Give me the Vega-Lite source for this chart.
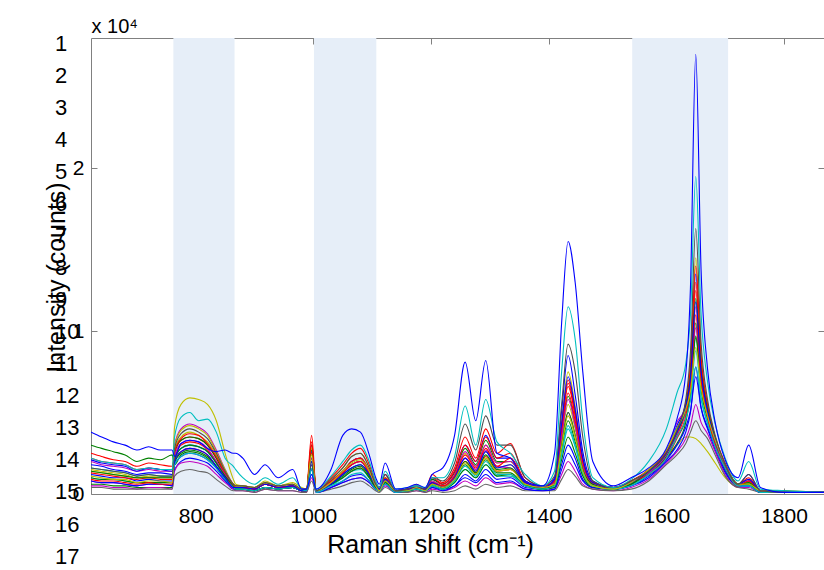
{
"$schema": "https://vega.github.io/schema/vega-lite/v6.json",
"width": 733,
"height": 456,
"autosize": {"type": "none"},
"padding": {"left": 91, "top": 38, "right": 0, "bottom": 76},
"background": "white",
"config": {
  "view": {"stroke": null},
  "font": "Liberation Sans",
  "axis": {"grid": false, "domainColor": "#808080", "tickColor": "#808080", "domainWidth": 1, "tickWidth": 1, "labelColor": "black", "titleColor": "black", "labelFont": "Liberation Sans", "titleFont": "Liberation Sans", "labelFontSize": 21, "titleFontSize": 25, "titleFontWeight": "normal", "zindex": 1}
},
"resolve": {"scale": {"x": "independent", "y": "independent"}},
"layer": [
{
  "data": {"values": [{"start": 762, "end": 866}, {"start": 1001, "end": 1107}, {"start": 1542, "end": 1705}]},
  "mark": {"type": "rect", "color": "#e6eef8"},
  "encoding": {
    "x": {"field": "start", "type": "quantitative", "scale": {"domain": [622, 1868], "nice": false, "zero": false}, "axis": {"orient": "top", "values": [800, 1000, 1200, 1400, 1600, 1800], "labels": false, "title": "x 10⁴", "titleX": 0, "titleY": -6, "titleAlign": "left", "titleBaseline": "alphabetic", "titleAngle": 0, "titleFontSize": 20, "tickSize": -6}},
    "x2": {"field": "end"},
    "y": {"datum": 0, "type": "quantitative", "scale": {"domain": [0, 2.8], "nice": false, "zero": false}, "axis": {"orient": "right", "values": [0, 1, 2], "labels": false, "title": null, "tickSize": -6, "domain": false}},
    "y2": {"datum": 2.8}
  }
},
{
  "data": {"values": [
{"x":622,"a":0.38,"b":0.22,"c":0.16,"d":0.14,"e":0.12,"f":0.22,"g":0.30,"h":0.08,"i":0.13,"j":0.18,"k":0.06,"l":0.10,"m":0.05,"n":0.15,"o":0.04,"p":0.25,"q":0.10,"r":0.08,"s":0.20,"t":0.14,"u":0.09,"v":0.16,"w":0.21,"z":0.11},
{"x":640,"a":0.35,"b":0.20,"c":0.15,"d":0.13,"e":0.11,"f":0.20,"g":0.28,"h":0.07,"i":0.12,"j":0.17,"k":0.06,"l":0.09,"m":0.05,"n":0.14,"o":0.04,"p":0.23,"q":0.09,"r":0.07,"s":0.18,"t":0.13,"u":0.08,"v":0.15,"w":0.19,"z":0.10},
{"x":660,"a":0.32,"b":0.19,"c":0.14,"d":0.12,"e":0.10,"f":0.19,"g":0.26,"h":0.07,"i":0.11,"j":0.15,"k":0.05,"l":0.09,"m":0.04,"n":0.13,"o":0.03,"p":0.21,"q":0.09,"r":0.07,"s":0.17,"t":0.12,"u":0.08,"v":0.14,"w":0.18,"z":0.09},
{"x":680,"a":0.30,"b":0.18,"c":0.13,"d":0.11,"e":0.10,"f":0.18,"g":0.24,"h":0.06,"i":0.10,"j":0.14,"k":0.05,"l":0.08,"m":0.04,"n":0.12,"o":0.03,"p":0.20,"q":0.08,"r":0.06,"s":0.16,"t":0.11,"u":0.07,"v":0.13,"w":0.17,"z":0.09},
{"x":700,"a":0.27,"b":0.15,"c":0.11,"d":0.10,"e":0.08,"f":0.15,"g":0.20,"h":0.05,"i":0.09,"j":0.12,"k":0.04,"l":0.07,"m":0.03,"n":0.10,"o":0.03,"p":0.17,"q":0.07,"r":0.05,"s":0.14,"t":0.10,"u":0.06,"v":0.11,"w":0.14,"z":0.07},
{"x":720,"a":0.29,"b":0.16,"c":0.12,"d":0.10,"e":0.09,"f":0.16,"g":0.22,"h":0.06,"i":0.10,"j":0.13,"k":0.04,"l":0.07,"m":0.04,"n":0.11,"o":0.03,"p":0.19,"q":0.07,"r":0.06,"s":0.15,"t":0.10,"u":0.07,"v":0.12,"w":0.16,"z":0.08},
{"x":740,"a":0.27,"b":0.15,"c":0.11,"d":0.10,"e":0.08,"f":0.15,"g":0.21,"h":0.06,"i":0.09,"j":0.13,"k":0.04,"l":0.07,"m":0.04,"n":0.11,"o":0.03,"p":0.18,"q":0.07,"r":0.06,"s":0.14,"t":0.10,"u":0.06,"v":0.11,"w":0.15,"z":0.08},
{"x":760,"a":0.27,"b":0.15,"c":0.11,"d":0.10,"e":0.08,"f":0.15,"g":0.24,"h":0.05,"i":0.09,"j":0.12,"k":0.04,"l":0.07,"m":0.03,"n":0.10,"o":0.03,"p":0.17,"q":0.07,"r":0.05,"s":0.14,"t":0.10,"u":0.06,"v":0.11,"w":0.14,"z":0.07},
{"x":764,"a":0.23,"b":0.35,"c":0.28,"d":0.41,"e":0.21,"f":0.25,"g":0.18,"h":0.30,"i":0.20,"j":0.15,"k":0.25,"l":0.21,"m":0.14,"n":0.27,"o":0.11,"p":0.22,"q":0.19,"r":0.18,"s":0.23,"t":0.21,"u":0.26,"v":0.18,"w":0.20,"z":0.29},
{"x":775,"a":0.31,"b":0.47,"c":0.37,"d":0.55,"e":0.28,"f":0.33,"g":0.24,"h":0.40,"i":0.26,"j":0.20,"k":0.33,"l":0.28,"m":0.19,"n":0.35,"o":0.14,"p":0.30,"q":0.25,"r":0.23,"s":0.31,"t":0.28,"u":0.34,"v":0.23,"w":0.26,"z":0.39},
{"x":790,"a":0.33,"b":0.50,"c":0.40,"d":0.59,"e":0.30,"f":0.35,"g":0.26,"h":0.43,"i":0.28,"j":0.22,"k":0.35,"l":0.30,"m":0.20,"n":0.38,"o":0.15,"p":0.32,"q":0.27,"r":0.25,"s":0.33,"t":0.30,"u":0.37,"v":0.25,"w":0.28,"z":0.42},
{"x":805,"a":0.32,"b":0.45,"c":0.38,"d":0.58,"e":0.29,"f":0.34,"g":0.25,"h":0.41,"i":0.27,"j":0.21,"k":0.34,"l":0.29,"m":0.19,"n":0.36,"o":0.14,"p":0.31,"q":0.26,"r":0.24,"s":0.32,"t":0.29,"u":0.36,"v":0.24,"w":0.27,"z":0.40},
{"x":820,"a":0.28,"b":0.46,"c":0.34,"d":0.55,"e":0.26,"f":0.30,"g":0.22,"h":0.37,"i":0.24,"j":0.19,"k":0.30,"l":0.26,"m":0.17,"n":0.32,"o":0.13,"p":0.27,"q":0.23,"r":0.21,"s":0.28,"t":0.26,"u":0.31,"v":0.21,"w":0.24,"z":0.36},
{"x":835,"a":0.26,"b":0.38,"c":0.25,"d":0.45,"e":0.19,"f":0.22,"g":0.16,"h":0.27,"i":0.17,"j":0.14,"k":0.22,"l":0.19,"m":0.12,"n":0.24,"o":0.09,"p":0.20,"q":0.17,"r":0.16,"s":0.20,"t":0.19,"u":0.23,"v":0.16,"w":0.17,"z":0.26},
{"x":850,"a":0.27,"b":0.22,"c":0.14,"d":0.25,"e":0.11,"f":0.12,"g":0.09,"h":0.15,"i":0.10,"j":0.08,"k":0.12,"l":0.11,"m":0.07,"n":0.13,"o":0.05,"p":0.11,"q":0.09,"r":0.09,"s":0.12,"t":0.11,"u":0.13,"v":0.09,"w":0.10,"z":0.15},
{"x":864,"a":0.25,"b":0.17,"c":0.06,"d":0.09,"e":0.05,"f":0.05,"g":0.04,"h":0.06,"i":0.04,"j":0.03,"k":0.05,"l":0.05,"m":0.03,"n":0.06,"o":0.02,"p":0.05,"q":0.04,"r":0.04,"s":0.05,"t":0.05,"u":0.06,"v":0.04,"w":0.04,"z":0.06},
{"x":868,"a":0.25,"b":0.15,"c":0.05,"d":0.06,"e":0.04,"f":0.04,"g":0.04,"h":0.05,"i":0.03,"j":0.03,"k":0.04,"l":0.03,"m":0.02,"n":0.05,"o":0.02,"p":0.04,"q":0.03,"r":0.03,"s":0.04,"t":0.03,"u":0.04,"v":0.03,"w":0.04,"z":0.05},
{"x":880,"a":0.22,"b":0.10,"c":0.05,"d":0.05,"e":0.04,"f":0.04,"g":0.04,"h":0.05,"i":0.03,"j":0.03,"k":0.04,"l":0.03,"m":0.02,"n":0.05,"o":0.02,"p":0.04,"q":0.03,"r":0.03,"s":0.04,"t":0.03,"u":0.04,"v":0.03,"w":0.04,"z":0.05},
{"x":900,"a":0.12,"b":0.06,"c":0.04,"d":0.04,"e":0.03,"f":0.03,"g":0.03,"h":0.04,"i":0.02,"j":0.02,"k":0.03,"l":0.02,"m":0.01,"n":0.04,"o":0.01,"p":0.03,"q":0.02,"r":0.02,"s":0.03,"t":0.02,"u":0.03,"v":0.02,"w":0.03,"z":0.04},
{"x":918,"a":0.18,"b":0.10,"c":0.07,"d":0.08,"e":0.06,"f":0.06,"g":0.06,"h":0.07,"i":0.04,"j":0.04,"k":0.06,"l":0.04,"m":0.03,"n":0.07,"o":0.03,"p":0.06,"q":0.04,"r":0.04,"s":0.06,"t":0.04,"u":0.06,"v":0.04,"w":0.06,"z":0.07},
{"x":940,"a":0.10,"b":0.06,"c":0.05,"d":0.05,"e":0.04,"f":0.04,"g":0.04,"h":0.05,"i":0.03,"j":0.03,"k":0.04,"l":0.03,"m":0.02,"n":0.05,"o":0.02,"p":0.04,"q":0.03,"r":0.03,"s":0.04,"t":0.03,"u":0.04,"v":0.03,"w":0.04,"z":0.05},
{"x":965,"a":0.15,"b":0.10,"c":0.06,"d":0.07,"e":0.05,"f":0.05,"g":0.05,"h":0.06,"i":0.04,"j":0.04,"k":0.05,"l":0.04,"m":0.02,"n":0.06,"o":0.02,"p":0.05,"q":0.04,"r":0.04,"s":0.05,"t":0.04,"u":0.05,"v":0.04,"w":0.05,"z":0.06},
{"x":980,"a":0.03,"b":0.03,"c":0.03,"d":0.04,"e":0.02,"f":0.02,"g":0.02,"h":0.03,"i":0.02,"j":0.02,"k":0.02,"l":0.02,"m":0.01,"n":0.03,"o":0.01,"p":0.02,"q":0.02,"r":0.02,"s":0.02,"t":0.02,"u":0.02,"v":0.02,"w":0.02,"z":0.03},
{"x":988,"a":0.03,"b":0.02,"c":0.03,"d":0.03,"e":0.02,"f":0.02,"g":0.02,"h":0.03,"i":0.02,"j":0.02,"k":0.02,"l":0.02,"m":0.01,"n":0.03,"o":0.01,"p":0.02,"q":0.02,"r":0.02,"s":0.02,"t":0.02,"u":0.02,"v":0.02,"w":0.02,"z":0.03},
{"x":997,"a":0.12,"b":0.15,"c":0.18,"d":0.20,"e":0.26,"f":0.36,"g":0.30,"h":0.15,"i":0.25,"j":0.18,"k":0.22,"l":0.12,"m":0.10,"n":0.28,"o":0.08,"p":0.32,"q":0.20,"r":0.15,"s":0.22,"t":0.27,"u":0.30,"v":0.16,"w":0.20,"z":0.24},
{"x":1005,"a":0.03,"b":0.03,"c":0.02,"d":0.02,"e":0.02,"f":0.02,"g":0.02,"h":0.02,"i":0.02,"j":0.01,"k":0.02,"l":0.02,"m":0.01,"n":0.02,"o":0.01,"p":0.02,"q":0.02,"r":0.01,"s":0.02,"t":0.02,"u":0.02,"v":0.01,"w":0.02,"z":0.02},
{"x":1030,"a":0.15,"b":0.11,"c":0.09,"d":0.08,"e":0.08,"f":0.10,"g":0.07,"h":0.07,"i":0.06,"j":0.04,"k":0.06,"l":0.05,"m":0.04,"n":0.09,"o":0.03,"p":0.08,"q":0.06,"r":0.04,"s":0.07,"t":0.06,"u":0.07,"v":0.05,"w":0.06,"z":0.07},
{"x":1050,"a":0.36,"b":0.20,"c":0.16,"d":0.14,"e":0.14,"f":0.18,"g":0.13,"h":0.13,"i":0.10,"j":0.08,"k":0.12,"l":0.10,"m":0.07,"n":0.16,"o":0.05,"p":0.14,"q":0.10,"r":0.07,"s":0.13,"t":0.11,"u":0.13,"v":0.08,"w":0.12,"z":0.14},
{"x":1065,"a":0.40,"b":0.27,"c":0.23,"d":0.20,"e":0.20,"f":0.25,"g":0.18,"h":0.18,"i":0.14,"j":0.11,"k":0.16,"l":0.14,"m":0.09,"n":0.23,"o":0.07,"p":0.20,"q":0.14,"r":0.09,"s":0.18,"t":0.15,"u":0.18,"v":0.12,"w":0.16,"z":0.19},
{"x":1080,"a":0.38,"b":0.30,"c":0.25,"d":0.22,"e":0.22,"f":0.28,"g":0.20,"h":0.20,"i":0.16,"j":0.12,"k":0.18,"l":0.15,"m":0.10,"n":0.25,"o":0.08,"p":0.22,"q":0.16,"r":0.10,"s":0.20,"t":0.17,"u":0.20,"v":0.13,"w":0.18,"z":0.21},
{"x":1095,"a":0.24,"b":0.20,"c":0.16,"d":0.14,"e":0.14,"f":0.18,"g":0.13,"h":0.13,"i":0.10,"j":0.08,"k":0.12,"l":0.10,"m":0.07,"n":0.16,"o":0.05,"p":0.14,"q":0.10,"r":0.07,"s":0.13,"t":0.11,"u":0.13,"v":0.08,"w":0.12,"z":0.14},
{"x":1106,"a":0.10,"b":0.08,"c":0.06,"d":0.06,"e":0.06,"f":0.07,"g":0.05,"h":0.05,"i":0.04,"j":0.03,"k":0.05,"l":0.04,"m":0.03,"n":0.06,"o":0.02,"p":0.06,"q":0.04,"r":0.03,"s":0.05,"t":0.04,"u":0.05,"v":0.03,"w":0.05,"z":0.05},
{"x":1112,"a":0.06,"b":0.04,"c":0.04,"d":0.03,"e":0.04,"f":0.04,"g":0.03,"h":0.02,"i":0.02,"j":0.02,"k":0.03,"l":0.02,"m":0.02,"n":0.03,"o":0.01,"p":0.03,"q":0.02,"r":0.02,"s":0.03,"t":0.02,"u":0.03,"v":0.02,"w":0.03,"z":0.02},
{"x":1122,"a":0.19,"b":0.14,"c":0.12,"d":0.10,"e":0.12,"f":0.12,"g":0.10,"h":0.08,"i":0.08,"j":0.07,"k":0.09,"l":0.06,"m":0.05,"n":0.10,"o":0.04,"p":0.10,"q":0.07,"r":0.06,"s":0.09,"t":0.08,"u":0.09,"v":0.06,"w":0.09,"z":0.08},
{"x":1140,"a":0.03,"b":0.03,"c":0.02,"d":0.02,"e":0.02,"f":0.02,"g":0.02,"h":0.02,"i":0.01,"j":0.02,"k":0.02,"l":0.01,"m":0.01,"n":0.02,"o":0.01,"p":0.02,"q":0.02,"r":0.01,"s":0.02,"t":0.02,"u":0.02,"v":0.01,"w":0.02,"z":0.02},
{"x":1160,"a":0.04,"b":0.04,"c":0.03,"d":0.03,"e":0.03,"f":0.03,"g":0.03,"h":0.02,"i":0.02,"j":0.02,"k":0.03,"l":0.02,"m":0.01,"n":0.03,"o":0.01,"p":0.03,"q":0.02,"r":0.02,"s":0.03,"t":0.02,"u":0.03,"v":0.02,"w":0.03,"z":0.02},
{"x":1175,"a":0.06,"b":0.05,"c":0.05,"d":0.06,"e":0.04,"f":0.05,"g":0.04,"h":0.04,"i":0.03,"j":0.03,"k":0.04,"l":0.03,"m":0.02,"n":0.04,"o":0.02,"p":0.04,"q":0.03,"r":0.03,"s":0.04,"t":0.03,"u":0.04,"v":0.03,"w":0.04,"z":0.04},
{"x":1190,"a":0.04,"b":0.04,"c":0.03,"d":0.03,"e":0.03,"f":0.03,"g":0.03,"h":0.03,"i":0.02,"j":0.02,"k":0.03,"l":0.02,"m":0.01,"n":0.03,"o":0.01,"p":0.03,"q":0.02,"r":0.02,"s":0.03,"t":0.02,"u":0.03,"v":0.02,"w":0.03,"z":0.02},
{"x":1202,"a":0.12,"b":0.10,"c":0.10,"d":0.07,"e":0.09,"f":0.12,"g":0.09,"h":0.07,"i":0.07,"j":0.04,"k":0.06,"l":0.05,"m":0.03,"n":0.08,"o":0.02,"p":0.10,"q":0.05,"r":0.04,"s":0.08,"t":0.06,"u":0.07,"v":0.05,"w":0.07,"z":0.06},
{"x":1220,"a":0.16,"b":0.10,"c":0.08,"d":0.05,"e":0.06,"f":0.07,"g":0.06,"h":0.05,"i":0.04,"j":0.03,"k":0.04,"l":0.03,"m":0.02,"n":0.05,"o":0.01,"p":0.06,"q":0.03,"r":0.02,"s":0.05,"t":0.04,"u":0.05,"v":0.03,"w":0.04,"z":0.04},
{"x":1240,"a":0.36,"b":0.23,"c":0.19,"d":0.10,"e":0.14,"f":0.16,"g":0.13,"h":0.10,"i":0.09,"j":0.05,"k":0.08,"l":0.07,"m":0.04,"n":0.11,"o":0.02,"p":0.14,"q":0.07,"r":0.05,"s":0.12,"t":0.09,"u":0.11,"v":0.08,"w":0.10,"z":0.09},
{"x":1258,"a":0.81,"b":0.54,"c":0.43,"d":0.22,"e":0.30,"f":0.35,"g":0.28,"h":0.22,"i":0.20,"j":0.12,"k":0.18,"l":0.15,"m":0.08,"n":0.25,"o":0.05,"p":0.30,"q":0.15,"r":0.10,"s":0.26,"t":0.20,"u":0.24,"v":0.17,"w":0.22,"z":0.19},
{"x":1276,"a":0.45,"b":0.30,"c":0.27,"d":0.14,"e":0.20,"f":0.22,"g":0.18,"h":0.15,"i":0.13,"j":0.08,"k":0.12,"l":0.10,"m":0.05,"n":0.17,"o":0.03,"p":0.20,"q":0.10,"r":0.07,"s":0.17,"t":0.13,"u":0.16,"v":0.11,"w":0.14,"z":0.12},
{"x":1293,"a":0.82,"b":0.58,"c":0.48,"d":0.26,"e":0.36,"f":0.40,"g":0.33,"h":0.27,"i":0.23,"j":0.15,"k":0.21,"l":0.18,"m":0.10,"n":0.30,"o":0.06,"p":0.35,"q":0.18,"r":0.12,"s":0.30,"t":0.24,"u":0.28,"v":0.20,"w":0.26,"z":0.22},
{"x":1312,"a":0.25,"b":0.32,"c":0.30,"d":0.16,"e":0.22,"f":0.25,"g":0.20,"h":0.17,"i":0.14,"j":0.09,"k":0.13,"l":0.11,"m":0.06,"n":0.19,"o":0.04,"p":0.22,"q":0.11,"r":0.07,"s":0.19,"t":0.15,"u":0.17,"v":0.12,"w":0.16,"z":0.14},
{"x":1335,"a":0.22,"b":0.25,"c":0.30,"d":0.18,"e":0.22,"f":0.31,"g":0.20,"h":0.16,"i":0.15,"j":0.10,"k":0.13,"l":0.11,"m":0.07,"n":0.20,"o":0.05,"p":0.25,"q":0.12,"r":0.08,"s":0.20,"t":0.16,"u":0.22,"v":0.12,"w":0.18,"z":0.15},
{"x":1360,"a":0.08,"b":0.12,"c":0.10,"d":0.06,"e":0.08,"f":0.10,"g":0.08,"h":0.07,"i":0.06,"j":0.04,"k":0.05,"l":0.05,"m":0.03,"n":0.07,"o":0.02,"p":0.08,"q":0.05,"r":0.03,"s":0.08,"t":0.06,"u":0.07,"v":0.05,"w":0.07,"z":0.06},
{"x":1390,"a":0.05,"b":0.05,"c":0.05,"d":0.04,"e":0.04,"f":0.05,"g":0.04,"h":0.03,"i":0.03,"j":0.03,"k":0.03,"l":0.03,"m":0.02,"n":0.04,"o":0.02,"p":0.04,"q":0.03,"r":0.02,"s":0.04,"t":0.03,"u":0.04,"v":0.03,"w":0.04,"z":0.04},
{"x":1410,"a":0.25,"b":0.14,"c":0.11,"d":0.09,"e":0.10,"f":0.08,"g":0.07,"h":0.06,"i":0.07,"j":0.04,"k":0.05,"l":0.05,"m":0.03,"n":0.07,"o":0.02,"p":0.08,"q":0.04,"r":0.03,"s":0.07,"t":0.06,"u":0.08,"v":0.05,"w":0.09,"z":0.06},
{"x":1422,"a":1.05,"b":0.75,"c":0.55,"d":0.45,"e":0.51,"f":0.42,"g":0.36,"h":0.30,"i":0.37,"j":0.18,"k":0.27,"l":0.24,"m":0.12,"n":0.33,"o":0.09,"p":0.40,"q":0.21,"r":0.15,"s":0.35,"t":0.30,"u":0.41,"v":0.25,"w":0.43,"z":0.29},
{"x":1433,"a":1.55,"b":1.15,"c":0.92,"d":0.75,"e":0.85,"f":0.70,"g":0.60,"h":0.50,"i":0.62,"j":0.30,"k":0.45,"l":0.40,"m":0.20,"n":0.55,"o":0.15,"p":0.66,"q":0.35,"r":0.25,"s":0.58,"t":0.50,"u":0.68,"v":0.42,"w":0.72,"z":0.48},
{"x":1445,"a":1.30,"b":0.95,"c":0.75,"d":0.54,"e":0.61,"f":0.50,"g":0.43,"h":0.36,"i":0.45,"j":0.22,"k":0.32,"l":0.29,"m":0.14,"n":0.40,"o":0.11,"p":0.48,"q":0.25,"r":0.18,"s":0.42,"t":0.36,"u":0.49,"v":0.30,"w":0.52,"z":0.35},
{"x":1458,"a":0.75,"b":0.45,"c":0.35,"d":0.23,"e":0.26,"f":0.21,"g":0.18,"h":0.15,"i":0.19,"j":0.09,"k":0.14,"l":0.12,"m":0.06,"n":0.17,"o":0.05,"p":0.20,"q":0.11,"r":0.08,"s":0.17,"t":0.15,"u":0.20,"v":0.13,"w":0.22,"z":0.14},
{"x":1475,"a":0.20,"b":0.10,"c":0.08,"d":0.07,"e":0.08,"f":0.07,"g":0.06,"h":0.06,"i":0.06,"j":0.04,"k":0.05,"l":0.05,"m":0.03,"n":0.06,"o":0.03,"p":0.07,"q":0.04,"r":0.04,"s":0.06,"t":0.06,"u":0.07,"v":0.05,"w":0.07,"z":0.05},
{"x":1510,"a":0.05,"b":0.04,"c":0.04,"d":0.03,"e":0.04,"f":0.04,"g":0.03,"h":0.03,"i":0.03,"j":0.03,"k":0.03,"l":0.03,"m":0.02,"n":0.04,"o":0.02,"p":0.04,"q":0.03,"r":0.03,"s":0.03,"t":0.03,"u":0.04,"v":0.03,"w":0.04,"z":0.03},
{"x":1540,"a":0.10,"b":0.09,"c":0.08,"d":0.06,"e":0.08,"f":0.07,"g":0.07,"h":0.06,"i":0.08,"j":0.05,"k":0.07,"l":0.06,"m":0.04,"n":0.08,"o":0.03,"p":0.08,"q":0.06,"r":0.05,"s":0.07,"t":0.06,"u":0.08,"v":0.05,"w":0.07,"z":0.07},
{"x":1570,"a":0.16,"b":0.20,"c":0.14,"d":0.12,"e":0.14,"f":0.15,"g":0.12,"h":0.13,"i":0.14,"j":0.10,"k":0.15,"l":0.12,"m":0.09,"n":0.14,"o":0.08,"p":0.15,"q":0.13,"r":0.11,"s":0.13,"t":0.14,"u":0.12,"v":0.12,"w":0.14,"z":0.15},
{"x":1600,"a":0.28,"b":0.40,"c":0.25,"d":0.24,"e":0.26,"f":0.26,"g":0.22,"h":0.25,"i":0.25,"j":0.20,"k":0.26,"l":0.25,"m":0.19,"n":0.26,"o":0.18,"p":0.26,"q":0.23,"r":0.21,"s":0.24,"t":0.25,"u":0.22,"v":0.22,"w":0.25,"z":0.27},
{"x":1618,"a":0.46,"b":0.62,"c":0.39,"d":0.30,"e":0.42,"f":0.36,"g":0.31,"h":0.44,"i":0.38,"j":0.27,"k":0.40,"l":0.41,"m":0.26,"n":0.39,"o":0.24,"p":0.40,"q":0.35,"r":0.30,"s":0.37,"t":0.38,"u":0.34,"v":0.35,"w":0.38,"z":0.40},
{"x":1633,"a":0.74,"b":0.80,"c":0.58,"d":0.35,"e":0.56,"f":0.52,"g":0.44,"h":0.53,"i":0.53,"j":0.38,"k":0.52,"l":0.49,"m":0.34,"n":0.55,"o":0.31,"p":0.55,"q":0.46,"r":0.41,"s":0.52,"t":0.53,"u":0.48,"v":0.46,"w":0.54,"z":0.52},
{"x":1641,"a":1.27,"b":1.10,"c":0.87,"d":0.35,"e":0.78,"f":0.73,"g":0.62,"h":0.66,"i":0.74,"j":0.50,"k":0.65,"l":0.58,"m":0.42,"n":0.81,"o":0.38,"p":0.79,"q":0.61,"r":0.51,"s":0.69,"t":0.72,"u":0.66,"v":0.58,"w":0.71,"z":0.63},
{"x":1650,"a":2.70,"b":1.95,"c":1.63,"d":0.34,"e":1.35,"f":1.30,"g":1.05,"h":1.02,"i":1.25,"j":0.78,"k":0.97,"l":0.78,"m":0.55,"n":1.45,"o":0.45,"p":1.40,"q":0.96,"r":0.72,"s":1.15,"t":1.20,"u":1.10,"v":0.88,"w":1.18,"z":0.90},
{"x":1659,"a":1.38,"b":1.11,"c":0.93,"d":0.31,"e":0.82,"f":0.80,"g":0.66,"h":0.69,"i":0.78,"j":0.53,"k":0.68,"l":0.58,"m":0.44,"n":0.86,"o":0.39,"p":0.84,"q":0.64,"r":0.53,"s":0.72,"t":0.76,"u":0.70,"v":0.60,"w":0.75,"z":0.65},
{"x":1670,"a":0.77,"b":0.69,"c":0.58,"d":0.26,"e":0.54,"f":0.53,"g":0.47,"h":0.47,"i":0.52,"j":0.40,"k":0.48,"l":0.43,"m":0.37,"n":0.55,"o":0.34,"p":0.55,"q":0.46,"r":0.41,"s":0.49,"t":0.52,"u":0.47,"v":0.44,"w":0.51,"z":0.48},
{"x":1683,"a":0.44,"b":0.43,"c":0.36,"d":0.19,"e":0.34,"f":0.34,"g":0.30,"h":0.31,"i":0.34,"j":0.27,"k":0.32,"l":0.30,"m":0.26,"n":0.35,"o":0.24,"p":0.35,"q":0.31,"r":0.29,"s":0.32,"t":0.34,"u":0.30,"v":0.29,"w":0.33,"z":0.33},
{"x":1700,"a":0.21,"b":0.22,"c":0.18,"d":0.10,"e":0.17,"f":0.18,"g":0.15,"h":0.16,"i":0.18,"j":0.13,"k":0.17,"l":0.15,"m":0.12,"n":0.18,"o":0.11,"p":0.19,"q":0.16,"r":0.14,"s":0.17,"t":0.18,"u":0.16,"v":0.16,"w":0.18,"z":0.18},
{"x":1722,"a":0.10,"b":0.08,"c":0.06,"d":0.04,"e":0.06,"f":0.06,"g":0.05,"h":0.05,"i":0.06,"j":0.05,"k":0.06,"l":0.05,"m":0.04,"n":0.06,"o":0.04,"p":0.06,"q":0.05,"r":0.05,"s":0.05,"t":0.06,"u":0.05,"v":0.05,"w":0.06,"z":0.06},
{"x":1740,"a":0.30,"b":0.20,"c":0.12,"d":0.08,"e":0.12,"f":0.10,"g":0.08,"h":0.08,"i":0.07,"j":0.05,"k":0.06,"l":0.05,"m":0.04,"n":0.07,"o":0.03,"p":0.09,"q":0.06,"r":0.05,"s":0.08,"t":0.07,"u":0.08,"v":0.05,"w":0.09,"z":0.06},
{"x":1760,"a":0.04,"b":0.03,"c":0.02,"d":0.02,"e":0.02,"f":0.02,"g":0.02,"h":0.02,"i":0.02,"j":0.01,"k":0.02,"l":0.01,"m":0.01,"n":0.02,"o":0.01,"p":0.02,"q":0.01,"r":0.01,"s":0.02,"t":0.02,"u":0.02,"v":0.01,"w":0.02,"z":0.02},
{"x":1800,"a":0.01,"b":0.02,"c":0.01,"d":0.01,"e":0.01,"f":0.01,"g":0.02,"h":0.01,"i":0.01,"j":0.01,"k":0.01,"l":0.01,"m":0.01,"n":0.01,"o":0.01,"p":0.01,"q":0.01,"r":0.01,"s":0.01,"t":0.01,"u":0.01,"v":0.01,"w":0.01,"z":0.01},
{"x":1868,"a":0.01,"b":0.01,"c":0.01,"d":0.01,"e":0.01,"f":0.01,"g":0.01,"h":0.01,"i":0.01,"j":0.01,"k":0.01,"l":0.01,"m":0.01,"n":0.01,"o":0.01,"p":0.01,"q":0.01,"r":0.01,"s":0.01,"t":0.01,"u":0.01,"v":0.01,"w":0.01,"z":0.01}
  ]},
  "transform": [{"fold": ["d","e","f","g","h","i","j","k","l","m","n","o","p","q","r","s","t","u","v","w","z","c","b","a"], "as": ["series", "val"]}],
  "mark": {"type": "line", "strokeWidth": 1.1, "interpolate": "monotone", "clip": true},
  "encoding": {
    "x": {"field": "x", "type": "quantitative", "scale": {"domain": [622, 1868], "nice": false, "zero": false}, "axis": {"orient": "bottom", "values": [800, 1000, 1200, 1400, 1600, 1800], "format": "d", "title": "Raman shift (cm⁻¹)", "tickSize": -6, "labelPadding": 17, "titleX": 339, "titleY": 58, "titleBaseline": "alphabetic", "titleAlign": "center"}},
    "y": {"field": "val", "type": "quantitative", "scale": {"domain": [0, 2.8], "nice": false, "zero": false}, "axis": {"orient": "left", "values": [0, 1, 2], "format": "d", "title": "Intensity (counts)", "tickSize": -6, "labelPadding": 13, "titleX": -35, "titleY": 239, "titleBaseline": "middle", "titleAlign": "center", "titleAngle": 270}},
    "color": {"field": "series", "type": "nominal", "scale": {"domain": ["d","e","f","g","h","i","j","k","l","m","n","o","p","q","r","s","t","u","v","w","z","c","b","a"], "range": ["#bfbf00","#0000ff","#ff0000","#008000","#bf00bf","#ff0000","#0000ff","#008000","#00bfbf","#bf00bf","#bfbf00","#666666","#ff0000","#008000","#0000ff","#bf00bf","#008000","#ff0000","#00bfbf","#0000ff","#bfbf00","#4d4d4d","#00bfbf","#0000ff"]}, "legend": null}
  }
},
{
  "data": {"values": [{"n":1},{"n":2},{"n":3},{"n":4},{"n":5},{"n":6},{"n":7},{"n":8},{"n":9},{"n":10},{"n":11},{"n":12},{"n":13},{"n":14},{"n":15},{"n":16},{"n":17}]},
  "mark": {"type": "text", "align": "left", "baseline": "middle", "fontSize": 22, "font": "Liberation Sans", "color": "black"},
  "encoding": {
    "x": {"datum": 561, "type": "quantitative", "scale": {"domain": [622, 1868], "nice": false, "zero": false}, "axis": null},
    "y": {"field": "n", "type": "quantitative", "scale": {"domain": [0.813, 15.047], "reverse": true, "nice": false, "zero": false}, "axis": null},
    "text": {"field": "n", "type": "quantitative"}
  }
}
]
}
